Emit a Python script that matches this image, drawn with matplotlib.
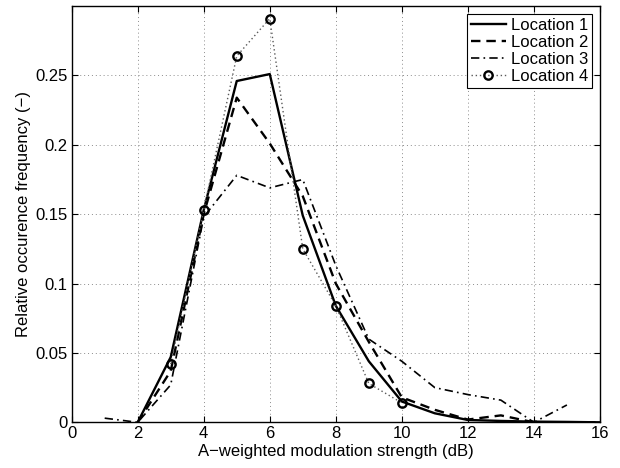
import matplotlib
matplotlib.use('Agg')
from matplotlib import pyplot as plt
import numpy as np

plt.rcParams['font.family'] = ['Liberation Sans', 'DejaVu Sans']

# data
x1 = [2, 3, 4, 5, 6, 7, 8, 9, 10, 11, 12, 13, 14, 15, 16]
loc1 = [0.0, 0.047, 0.153, 0.246, 0.251, 0.149, 0.084, 0.044, 0.015, 0.0065, 0.0017, 0.001, 0.0005, 0.0003, 0.0]
x2 = [2, 3, 4, 5, 6, 7, 8, 9, 10, 11, 12, 13, 14, 15, 16]
loc2 = [0.0, 0.037, 0.150, 0.234, 0.201, 0.163, 0.100, 0.058, 0.018, 0.009, 0.002, 0.005, 0.0, 0.0, 0.0]
x3 = [1, 2, 3, 4, 5, 6, 7, 8, 9, 10, 11, 12, 13, 14, 15]
loc3 = [0.003, 0.0, 0.027, 0.148, 0.178, 0.169, 0.175, 0.113, 0.060, 0.044, 0.025, 0.020, 0.016, 0.0, 0.0125]
x4 = [3, 4, 5, 6, 7, 8, 9, 10]
loc4 = [0.042, 0.153, 0.264, 0.291, 0.125, 0.084, 0.028, 0.014]

xticks = np.arange(0, 17, 2)
yticks = [0, 0.05, 0.1, 0.15, 0.2, 0.25]
ytick_labels = ['0', '0.05', '0.1', '0.15', '0.2', '0.25']

fig = plt.figure(figsize=(6.2, 4.68), dpi=100)
ax = fig.add_axes([0.1156, 0.0976, 0.852, 0.8894])

ax.plot(x1, loc1, color='k', linestyle='-', linewidth=1.7, label='Location 1')
ax.plot(x2, loc2, color='k', linestyle=(0, (4, 2.5)), linewidth=1.7, label='Location 2')
ax.plot(x3, loc3, color='k', linestyle=(0, (5, 2.5, 1, 2.5)), linewidth=1.2, label='Location 3')
ax.plot(x4, loc4, color='0.35', linestyle=(0, (1, 2)), linewidth=1.0,
        marker='o', markersize=6, markerfacecolor='none',
        markeredgecolor='k', markeredgewidth=1.7, label='Location 4')

ax.set_xlim(0, 16)
ax.set_ylim(0, 0.3)
ax.set_xticks(xticks)
ax.set_yticks(yticks)
ax.set_yticklabels(ytick_labels)
ax.tick_params(direction='in', top=True, right=True, labelsize=12, length=4, width=0.8, pad=3)
ax.grid(True, linestyle=(0, (1, 3)), color='0.55', linewidth=0.7)
for s in ax.spines.values():
    s.set_linewidth(1.0)

ax.set_xlabel('A\u2212weighted modulation strength (dB)', fontsize=12, labelpad=2)
ax.set_ylabel('Relative occurence frequency (\u2212)', fontsize=12, labelpad=3)

leg = ax.legend(loc='upper right', fontsize=12, handlelength=2.1, handletextpad=0.3,
                borderpad=0.25, labelspacing=0.12, fancybox=False, framealpha=1,
                edgecolor='k', borderaxespad=0.45)
leg.get_frame().set_linewidth(0.8)

plt.savefig('out.png', dpi=100)
